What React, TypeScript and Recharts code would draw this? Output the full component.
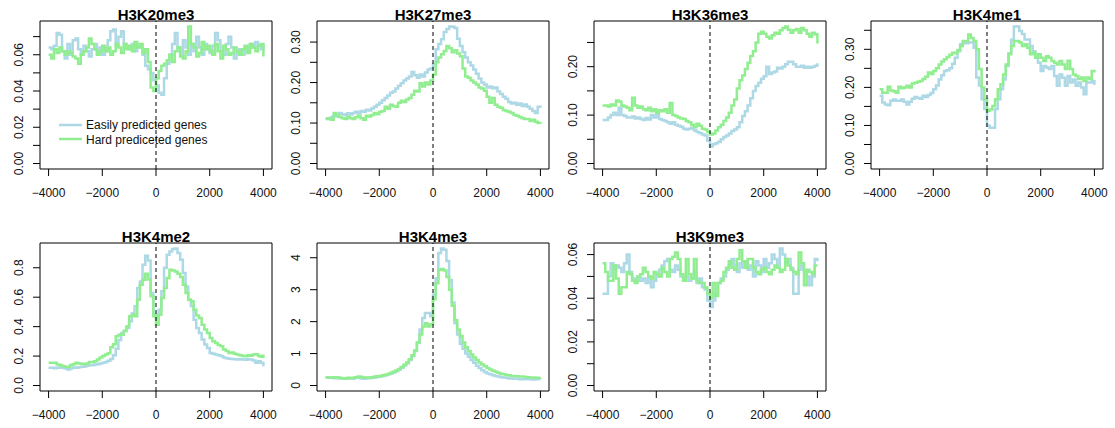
import React from 'react';
import { LineChart, Line, XAxis, YAxis, ReferenceLine, ReferenceArea } from 'recharts';

// bin start positions relative to TSS (bp)
const positions = [
  -4000, -3900, -3800, -3700, -3600, -3500, -3400, -3300, -3200, -3100,
  -3000, -2900, -2800, -2700, -2600, -2500, -2400, -2300, -2200, -2100,
  -2000, -1900, -1800, -1700, -1600, -1500, -1400, -1300, -1200, -1100,
  -1000, -900, -800, -700, -600, -500, -400, -300, -200, -100,
  0,
  100, 200, 300, 400, 500, 600, 700, 800, 900, 1000,
  1100, 1200, 1300, 1400, 1500, 1600, 1700, 1800, 1900, 2000,
  2100, 2200, 2300, 2400, 2500, 2600, 2700, 2800, 2900, 3000,
  3100, 3200, 3300, 3400, 3500, 3600, 3700, 3800, 3900, 4000,
];
const xTicks = [-4000, -2000, 0, 2000, 4000];

const k20Easy = [
  0.064, 0.063, 0.065, 0.072, 0.071, 0.062, 0.058, 0.066, 0.060, 0.068,
  0.069, 0.063, 0.060, 0.065, 0.062, 0.059, 0.063, 0.066, 0.061, 0.064,
  0.060, 0.062, 0.068, 0.073, 0.074, 0.065, 0.070, 0.073, 0.066, 0.064,
  0.063, 0.066, 0.062, 0.064, 0.065, 0.060, 0.054, 0.052, 0.050, 0.046,
  0.043,
  0.039, 0.038, 0.047, 0.055, 0.060, 0.066, 0.072, 0.064, 0.060, 0.068,
  0.064, 0.060, 0.066, 0.062, 0.070, 0.064, 0.060, 0.066, 0.063, 0.061,
  0.065, 0.072, 0.068, 0.062, 0.060, 0.066, 0.070, 0.064, 0.058, 0.061,
  0.063, 0.060, 0.064, 0.062, 0.066, 0.064, 0.067, 0.065, 0.063, 0.066,
];
const k20Hard = [
  0.060, 0.058, 0.063, 0.061, 0.064, 0.062, 0.060, 0.062, 0.061, 0.059,
  0.058, 0.055, 0.060, 0.062, 0.064, 0.069, 0.066, 0.063, 0.060, 0.062,
  0.065, 0.062, 0.064, 0.060, 0.062, 0.066, 0.064, 0.061, 0.066, 0.063,
  0.065, 0.062, 0.067, 0.064, 0.066, 0.061, 0.063, 0.056, 0.042, 0.040,
  0.047,
  0.051, 0.054, 0.055, 0.057, 0.060, 0.056, 0.062, 0.064, 0.059, 0.058,
  0.062, 0.0756, 0.066, 0.064, 0.059, 0.061, 0.067, 0.063, 0.065, 0.062,
  0.060, 0.066, 0.062, 0.058, 0.065, 0.063, 0.060, 0.061, 0.064, 0.062,
  0.060, 0.063, 0.065, 0.061, 0.066, 0.064, 0.062, 0.065, 0.066, 0.059,
];

const k27Easy = [
  0.110, 0.112, 0.115, 0.118, 0.116, 0.125, 0.122, 0.120, 0.124, 0.121,
  0.125, 0.128, 0.124, 0.130, 0.128, 0.133, 0.131, 0.136, 0.140, 0.145,
  0.150, 0.156, 0.162, 0.168, 0.175, 0.178, 0.185, 0.192, 0.198, 0.205,
  0.210, 0.215, 0.226, 0.218, 0.212, 0.220, 0.215, 0.225, 0.232, 0.235,
  0.245,
  0.282, 0.295, 0.307, 0.325, 0.332, 0.3385, 0.338, 0.335, 0.308, 0.290,
  0.275, 0.262, 0.250, 0.242, 0.232, 0.222, 0.210, 0.200, 0.195, 0.188,
  0.190, 0.186, 0.188, 0.178, 0.172, 0.165, 0.160, 0.152, 0.148, 0.150,
  0.145, 0.148, 0.142, 0.146, 0.140, 0.135, 0.130, 0.125, 0.140, 0.138,
];
const k27Hard = [
  0.112, 0.110, 0.108, 0.125, 0.120, 0.115, 0.112, 0.110, 0.115, 0.112,
  0.110, 0.114, 0.118, 0.112, 0.108, 0.118, 0.116, 0.120, 0.125, 0.122,
  0.128, 0.130, 0.140, 0.135, 0.145, 0.142, 0.140, 0.150, 0.155, 0.152,
  0.158, 0.162, 0.170, 0.180, 0.178, 0.198, 0.190, 0.200, 0.195, 0.205,
  0.220,
  0.250, 0.262, 0.270, 0.278, 0.290, 0.285, 0.275, 0.280, 0.272, 0.265,
  0.235, 0.215, 0.212, 0.205, 0.200, 0.195, 0.188, 0.185, 0.180, 0.165,
  0.150, 0.162, 0.145, 0.140, 0.138, 0.132, 0.130, 0.128, 0.125, 0.120,
  0.118, 0.115, 0.112, 0.110, 0.110, 0.105, 0.108, 0.103, 0.100, 0.098,
];

const k36Easy = [
  0.090, 0.090, 0.095, 0.100, 0.105, 0.100, 0.115, 0.100, 0.098, 0.095,
  0.095, 0.097, 0.093, 0.095, 0.092, 0.090, 0.094, 0.091, 0.100, 0.095,
  0.100, 0.092, 0.090, 0.088, 0.085, 0.082, 0.085, 0.080, 0.078, 0.076,
  0.072, 0.070, 0.072, 0.074, 0.068, 0.065, 0.063, 0.060, 0.058, 0.047,
  0.035,
  0.040, 0.042, 0.045, 0.050, 0.055, 0.058, 0.062, 0.067, 0.070, 0.075,
  0.085, 0.098, 0.108, 0.120, 0.135, 0.150, 0.160, 0.167, 0.175, 0.180,
  0.200, 0.185, 0.188, 0.190, 0.198, 0.196, 0.200, 0.205, 0.210, 0.210,
  0.205, 0.200, 0.200, 0.202, 0.198, 0.200, 0.198, 0.200, 0.202, 0.207,
];
const k36Hard = [
  0.120, 0.120, 0.118, 0.122, 0.120, 0.130, 0.128, 0.120, 0.118, 0.115,
  0.110, 0.136, 0.120, 0.115, 0.118, 0.112, 0.110, 0.115, 0.108, 0.112,
  0.105, 0.110, 0.108, 0.112, 0.105, 0.125, 0.100, 0.098, 0.095, 0.093,
  0.092, 0.088, 0.085, 0.080, 0.075, 0.082, 0.078, 0.072, 0.070, 0.065,
  0.060,
  0.062, 0.068, 0.075, 0.080, 0.088, 0.095, 0.105, 0.120, 0.132, 0.155,
  0.172, 0.182, 0.195, 0.208, 0.222, 0.232, 0.250, 0.268, 0.272, 0.268,
  0.262, 0.258, 0.265, 0.270, 0.268, 0.275, 0.280, 0.283, 0.276, 0.270,
  0.275, 0.278, 0.270, 0.280, 0.275, 0.268, 0.262, 0.270, 0.267, 0.248,
];

const k4me1Easy = [
  0.178, 0.160, 0.155, 0.153, 0.165, 0.168, 0.165, 0.165, 0.168, 0.162,
  0.155, 0.162, 0.170, 0.175, 0.172, 0.170, 0.178, 0.175, 0.180, 0.185,
  0.195, 0.205, 0.221, 0.232, 0.243, 0.245, 0.250, 0.262, 0.278, 0.295,
  0.313, 0.318, 0.316, 0.318, 0.318, 0.304, 0.226, 0.205, 0.169, 0.143,
  0.099,
  0.094, 0.094, 0.143, 0.169, 0.195, 0.221, 0.256, 0.290, 0.325, 0.360,
  0.360, 0.348, 0.340, 0.326, 0.326, 0.309, 0.295, 0.278, 0.265, 0.243,
  0.256, 0.252, 0.248, 0.256, 0.230, 0.204, 0.234, 0.225, 0.204, 0.230,
  0.213, 0.221, 0.204, 0.213, 0.200, 0.182, 0.213, 0.213, 0.217, 0.206,
];
const k4me1Hard = [
  0.195, 0.186, 0.186, 0.202, 0.192, 0.190, 0.186, 0.202, 0.198, 0.200,
  0.204, 0.200, 0.210, 0.212, 0.215, 0.217, 0.222, 0.228, 0.239, 0.235,
  0.243, 0.250, 0.260, 0.268, 0.274, 0.280, 0.286, 0.291, 0.290, 0.298,
  0.309, 0.322, 0.322, 0.339, 0.330, 0.322, 0.300, 0.248, 0.200, 0.169,
  0.138,
  0.142, 0.151, 0.169, 0.195, 0.208, 0.234, 0.260, 0.287, 0.309, 0.322,
  0.322, 0.318, 0.309, 0.313, 0.304, 0.287, 0.291, 0.278, 0.287, 0.278,
  0.269, 0.282, 0.278, 0.269, 0.265, 0.260, 0.269, 0.260, 0.248, 0.270,
  0.248, 0.234, 0.230, 0.222, 0.226, 0.217, 0.226, 0.222, 0.243, 0.239,
];

const k4me2Easy = [
  0.120, 0.120, 0.118, 0.120, 0.122, 0.120, 0.115, 0.108, 0.118, 0.122,
  0.120, 0.124, 0.128, 0.130, 0.135, 0.140, 0.138, 0.142, 0.145, 0.150,
  0.154, 0.160, 0.168, 0.180, 0.205, 0.250, 0.310, 0.357, 0.370, 0.390,
  0.436, 0.490, 0.538, 0.662, 0.707, 0.820, 0.881, 0.850, 0.628, 0.481,
  0.459,
  0.515, 0.640, 0.800, 0.888, 0.911, 0.927, 0.931, 0.900, 0.854, 0.764,
  0.673, 0.583, 0.540, 0.447, 0.390, 0.357, 0.312, 0.278, 0.255, 0.221,
  0.215, 0.210, 0.205, 0.200, 0.190, 0.186, 0.182, 0.180, 0.178, 0.176,
  0.178, 0.176, 0.175, 0.178, 0.176, 0.170, 0.154, 0.165, 0.154, 0.131,
];
const k4me2Hard = [
  0.154, 0.154, 0.154, 0.143, 0.140, 0.131, 0.128, 0.126, 0.140, 0.145,
  0.154, 0.150, 0.148, 0.145, 0.150, 0.160, 0.160, 0.165, 0.176, 0.190,
  0.200, 0.210, 0.220, 0.260, 0.280, 0.334, 0.345, 0.345, 0.370, 0.402,
  0.470, 0.480, 0.470, 0.583, 0.685, 0.719, 0.760, 0.720, 0.606, 0.470,
  0.413,
  0.481, 0.594, 0.662, 0.730, 0.786, 0.782, 0.775, 0.760, 0.737, 0.685,
  0.628, 0.583, 0.572, 0.515, 0.475, 0.459, 0.413, 0.380, 0.357, 0.323,
  0.300, 0.289, 0.275, 0.266, 0.244, 0.235, 0.221, 0.224, 0.215, 0.210,
  0.205, 0.200, 0.198, 0.205, 0.203, 0.210, 0.212, 0.200, 0.195, 0.210,
];

const k4me3Easy = [
  0.25, 0.24, 0.25, 0.23, 0.24, 0.22, 0.22, 0.21, 0.22, 0.23,
  0.22, 0.24, 0.25, 0.22, 0.21, 0.24, 0.23, 0.24, 0.25, 0.27,
  0.28, 0.30, 0.32, 0.35, 0.38, 0.41, 0.45, 0.50, 0.56, 0.63,
  0.70, 0.80, 0.92, 1.08, 1.33, 1.75, 2.11, 2.27, 2.27, 2.17,
  2.84,
  3.36, 4.15, 4.29, 4.25, 3.90, 3.30, 2.60, 1.95, 1.60, 1.30,
  1.15, 1.00, 0.90, 0.80, 0.71, 0.62, 0.55, 0.48, 0.42, 0.38,
  0.35, 0.32, 0.30, 0.28, 0.26, 0.25, 0.24, 0.22, 0.22, 0.21,
  0.21, 0.20, 0.20, 0.21, 0.20, 0.20, 0.19, 0.20, 0.20, 0.20,
];
const k4me3Hard = [
  0.26, 0.25, 0.24, 0.26, 0.25, 0.24, 0.23, 0.22, 0.24, 0.23,
  0.24, 0.26, 0.28, 0.27, 0.25, 0.24, 0.25, 0.26, 0.28, 0.29,
  0.30, 0.32, 0.34, 0.36, 0.40, 0.43, 0.47, 0.52, 0.58, 0.65,
  0.72, 0.82, 0.95, 1.10, 1.35, 1.60, 1.85, 1.95, 1.85, 1.92,
  2.70,
  3.20, 3.62, 3.65, 3.60, 3.40, 3.00, 2.50, 2.05, 1.75, 1.55,
  1.35, 1.20, 1.08, 0.97, 0.88, 0.80, 0.72, 0.66, 0.60, 0.55,
  0.50, 0.46, 0.43, 0.40, 0.37, 0.35, 0.33, 0.32, 0.30, 0.30,
  0.29, 0.28, 0.28, 0.27, 0.26, 0.25, 0.25, 0.24, 0.24, 0.25,
];

const k9Easy = [
  0.042, 0.042, 0.050, 0.056, 0.053, 0.055, 0.054, 0.052, 0.056, 0.060,
  0.052, 0.049, 0.048, 0.050, 0.048, 0.049, 0.047, 0.050, 0.045, 0.048,
  0.050, 0.053, 0.055, 0.057, 0.058, 0.053, 0.052, 0.055, 0.053, 0.050,
  0.048, 0.050, 0.048, 0.049, 0.052, 0.047, 0.049, 0.045, 0.044, 0.039,
  0.036,
  0.039, 0.042, 0.047, 0.049, 0.050, 0.053, 0.055, 0.058, 0.055, 0.052,
  0.056, 0.054, 0.057, 0.053, 0.055, 0.050, 0.057, 0.055, 0.052, 0.058,
  0.054, 0.056, 0.060, 0.058, 0.055, 0.0628, 0.060, 0.056, 0.058, 0.054,
  0.042, 0.042, 0.053, 0.055, 0.052, 0.050, 0.046, 0.050, 0.058, 0.057,
];
const k9Hard = [
  0.056, 0.052, 0.048, 0.048, 0.055, 0.049, 0.042, 0.045, 0.045, 0.052,
  0.051, 0.048, 0.047, 0.050, 0.051, 0.054, 0.052, 0.050, 0.049, 0.052,
  0.051, 0.050, 0.054, 0.052, 0.050, 0.058, 0.059, 0.061, 0.058, 0.051,
  0.048, 0.058, 0.051, 0.049, 0.058, 0.048, 0.047, 0.047, 0.045, 0.042,
  0.040,
  0.047, 0.041, 0.047, 0.048, 0.052, 0.054, 0.057, 0.054, 0.053, 0.058,
  0.062, 0.057, 0.054, 0.058, 0.058, 0.054, 0.052, 0.051, 0.053, 0.054,
  0.052, 0.051, 0.053, 0.055, 0.054, 0.052, 0.053, 0.058, 0.055, 0.053,
  0.052, 0.051, 0.061, 0.056, 0.046, 0.053, 0.052, 0.051, 0.055, 0.055,
];

// y tick positions and their printed labels ('' = tick without label, as R drops crowded ones)
const ticks007 = [0, 0.01, 0.02, 0.03, 0.04, 0.05, 0.06, 0.07];
const labels007 = ['0.00', '', '0.02', '', '0.04', '', '0.06', ''];
const ticks030 = [0, 0.05, 0.1, 0.15, 0.2, 0.25, 0.3];
const labels030 = ['0.00', '', '0.10', '', '0.20', '', '0.30'];
const ticks025 = [0, 0.05, 0.1, 0.15, 0.2, 0.25];
const labels025 = ['0.00', '', '0.10', '', '0.20', ''];
const ticks035 = [0, 0.05, 0.1, 0.15, 0.2, 0.25, 0.3, 0.35];
const labels035 = ['0.00', '', '0.10', '', '0.20', '', '0.30', ''];
const ticks08 = [0, 0.2, 0.4, 0.6, 0.8];
const labels08 = ['0.0', '0.2', '0.4', '0.6', '0.8'];
const ticks4 = [0, 1, 2, 3, 4];
const labels4 = ['0', '1', '2', '3', '4'];
const ticks006 = [0, 0.01, 0.02, 0.03, 0.04, 0.05, 0.06];
const labels006 = ['0.00', '', '0.02', '', '0.04', '', '0.06'];

const EASY = '#ADD8E6';
const HARD = '#90EE90';
const FONT = '"Liberation Sans", Arial, Helvetica, sans-serif';

const BOX_W = 232;
const BOX_H = 148;
const colLeft = [40, 317, 594, 871];
const rowTop = [21, 243];

const panels = [
  { title: 'H3K20me3', easy: k20Easy, hard: k20Hard, yTicks: ticks007, yLabels: labels007, col: 0, row: 0 },
  { title: 'H3K27me3', easy: k27Easy, hard: k27Hard, yTicks: ticks030, yLabels: labels030, col: 1, row: 0 },
  { title: 'H3K36me3', easy: k36Easy, hard: k36Hard, yTicks: ticks025, yLabels: labels025, col: 2, row: 0 },
  { title: 'H3K4me1', easy: k4me1Easy, hard: k4me1Hard, yTicks: ticks035, yLabels: labels035, col: 3, row: 0 },
  { title: 'H3K4me2', easy: k4me2Easy, hard: k4me2Hard, yTicks: ticks08, yLabels: labels08, col: 0, row: 1 },
  { title: 'H3K4me3', easy: k4me3Easy, hard: k4me3Hard, yTicks: ticks4, yLabels: labels4, col: 1, row: 1 },
  { title: 'H3K9me3', easy: k9Easy, hard: k9Hard, yTicks: ticks006, yLabels: labels006, col: 2, row: 1 },
];

function fmtX(v: number): string {
  return v < 0 ? '\u2212' + Math.abs(v) : String(v);
}

function Panel({ p }: { p: typeof panels[number] }) {
  const data = positions.map((x, i) => ({ x, easy: p.easy[i], hard: p.hard[i] }));
  const ymax = Math.max(...p.easy, ...p.hard);
  const ylo = -0.04 * ymax;
  const yhi = 1.04 * ymax;
  const left = colLeft[p.col];
  const top = rowTop[p.row];
  const ML = 50, MT = 10, MR = 10, XH = 40;
  const yTick = (props: any) => {
    const { x, y, payload } = props;
    const i = p.yTicks.findIndex((t) => Math.abs(t - payload.value) < 1e-9);
    const text = i >= 0 ? p.yLabels[i] : '';
    if (!text) return <g />;
    return (
      <text transform={`translate(${x - 10},${y}) rotate(-90)`} textAnchor="middle"
        fontSize={12} fill="#111" fontFamily={FONT}>{text}</text>
    );
  };
  const xTick = (props: any) => {
    const { x, y, payload } = props;
    return (
      <text x={x} y={y} dy={20.5} textAnchor="middle" fontSize={12} fill="#111" fontFamily={FONT}>
        {fmtX(payload.value)}
      </text>
    );
  };
  return (
    <div style={{ position: 'absolute', left: left - ML, top: top - MT }}>
      <LineChart width={ML + BOX_W + MR} height={MT + BOX_H + XH} data={data}
        margin={{ top: MT, right: MR, left: 0, bottom: 0 }}>
        <XAxis dataKey="x" type="number" domain={[-4320, 4320]} ticks={xTicks} interval={0} allowDataOverflow
          axisLine={false} tickLine={{ stroke: '#000' }} tickSize={7} tickMargin={0} tick={xTick} height={XH} />
        <YAxis type="number" domain={[ylo, yhi]} ticks={p.yTicks} interval={0} allowDataOverflow
          axisLine={false} tickLine={{ stroke: '#000' }} tickSize={7} tickMargin={0} tick={yTick} width={ML} />
        <Line dataKey="easy" type="stepAfter" stroke={EASY} strokeWidth={2.5} dot={false}
          activeDot={false} isAnimationActive={false} />
        <Line dataKey="hard" type="stepAfter" stroke={HARD} strokeWidth={2.5} dot={false}
          activeDot={false} isAnimationActive={false} />
        <ReferenceLine x={0} stroke="#000" strokeWidth={1} strokeDasharray="4 3" />
        <ReferenceArea x1={-4320} x2={4320} y1={ylo} y2={yhi} fill="none" fillOpacity={0}
          stroke="#000" strokeWidth={1} ifOverflow="visible" />
      </LineChart>
    </div>
  );
}

export default function App() {
  return (
    <div style={{ position: 'absolute', left: 0, top: 0, width: 1115, height: 428, background: '#fff', overflow: 'hidden' }}>
      {panels.map((p) => <Panel key={p.title} p={p} />)}
      <svg width={1115} height={428} style={{ position: 'absolute', left: 0, top: 0, pointerEvents: 'none' }}>
        {panels.map((p) => (
          <text key={p.title} x={colLeft[p.col] + BOX_W / 2} y={rowTop[p.row] - 1.5} textAnchor="middle"
            fontSize={15} fontWeight="bold" fill="#000" fontFamily={FONT}>{p.title}</text>
        ))}
        <line x1={59} x2={82} y1={125} y2={125} stroke={EASY} strokeWidth={2.5} />
        <line x1={59} x2={82} y1={139} y2={139} stroke={HARD} strokeWidth={2.5} />
        <text x={86} y={129.3} fontSize={12} fill="#111" fontFamily={FONT}>Easily predicted genes</text>
        <text x={86} y={143.5} fontSize={12} fill="#111" fontFamily={FONT}>Hard prediceted genes</text>
      </svg>
    </div>
  );
}
